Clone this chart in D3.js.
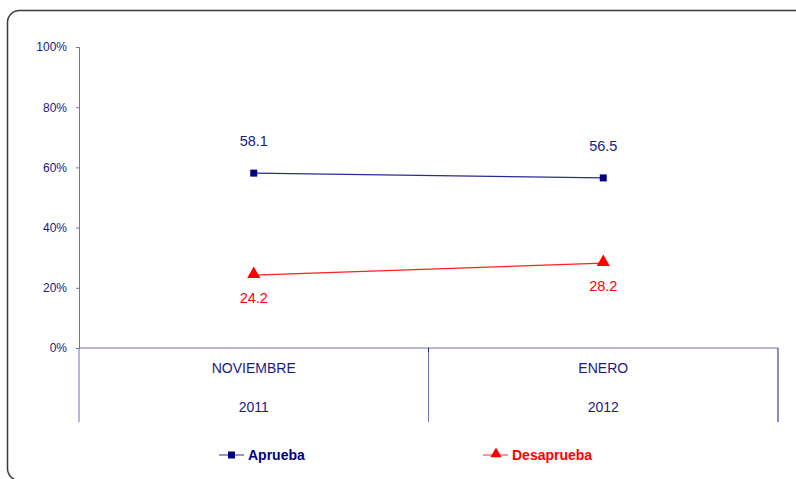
<!DOCTYPE html>
<html><head><meta charset="utf-8">
<script src="https://cdn.jsdelivr.net/npm/d3@7"></script>
<style>body{margin:0;background:#fff}svg{display:block;font-family:"Liberation Sans",Arial,sans-serif}</style>
</head><body>
<svg id="c" width="796" height="479"></svg>
<script>
const months = ["NOVIEMBRE", "ENERO"];
const years = ["2011", "2012"];
const aprueba = [58.1, 56.5];
const desaprueba = [24.2, 28.2];
const yTicks = [0, 20, 40, 60, 80, 100];

const svg = d3.select("#c");
svg.append("rect").attr("x", 7.5).attr("y", 10.5).attr("width", 820).attr("height", 470)
  .attr("rx", 12).attr("fill", "#fff").attr("stroke", "#3a3a3a").attr("stroke-width", 1.5);

const L = 79, R = 778, T = 47, B = 348;
const x = d3.scaleBand().domain(months).range([L, R]);
const y = d3.scaleLinear().domain([0, 100]).range([B, T]);
const axisCol = "#7070b8", textCol = "#1a1a80";

// y axis
const ya = svg.append("g").attr("transform", `translate(${L},0)`)
  .call(d3.axisLeft(y).tickValues(yTicks).tickSize(3).tickPadding(9).tickFormat(d => d + "%"));
ya.select(".domain").attr("stroke", axisCol);
ya.selectAll(".tick line").attr("stroke", axisCol);
ya.selectAll("text").attr("fill", textCol).attr("font-size", 12).attr("font-family", "Liberation Sans, Arial");

// x axis line
svg.append("line").attr("x1", L).attr("x2", R).attr("y1", y(0)).attr("y2", y(0)).attr("stroke", axisCol);
// category dividers
const divs = [L, ...months.map(m => x(m) + x.bandwidth())];
svg.selectAll(".div").data(divs).join("line")
  .attr("x1", d => d).attr("x2", d => d).attr("y1", y(0)).attr("y2", 422)
  .attr("stroke", (d, i) => i === divs.length - 1 ? "#1a1a80" : axisCol);
svg.append("line").attr("x1", divs[1]).attr("x2", divs[1]).attr("y1", y(0)).attr("y2", y(0) + 4).attr("stroke", "#1a1a80");

svg.selectAll(".m").data(months).join("text")
  .attr("x", d => x(d) + x.bandwidth() / 2).attr("y", 373).attr("text-anchor", "middle")
  .attr("font-size", 14).attr("fill", textCol).text(d => d);
svg.selectAll(".yr").data(years).join("text")
  .attr("x", (d, i) => x(months[i]) + x.bandwidth() / 2).attr("y", 412).attr("text-anchor", "middle")
  .attr("font-size", 14).attr("fill", textCol).text(d => d);

const cx = i => x(months[i]) + x.bandwidth() / 2;
const line = d3.line().x((d, i) => cx(i)).y(d => y(d));

// Aprueba
svg.append("path").attr("d", line(aprueba)).attr("fill", "none").attr("stroke", "#2a2a90").attr("stroke-width", 1.2);
svg.selectAll(".sq").data(aprueba).join("rect")
  .attr("x", (d, i) => cx(i) - 3.5).attr("y", d => y(d) - 3.5).attr("width", 7).attr("height", 7).attr("fill", "#000080");
svg.selectAll(".la").data(aprueba).join("text")
  .attr("x", (d, i) => cx(i)).attr("y", d => y(d) - 27).attr("text-anchor", "middle")
  .attr("font-size", 14.5).attr("fill", textCol).text(d => d.toFixed(1));

// Desaprueba
svg.append("path").attr("d", line(desaprueba)).attr("fill", "none").attr("stroke", "#ff2020").attr("stroke-width", 1.2);
const tri = d3.symbol().type(d3.symbolTriangle).size(75);
svg.selectAll(".tr").data(desaprueba).join("path")
  .attr("d", tri).attr("transform", (d, i) => `translate(${cx(i)},${y(d) - 1})`).attr("fill", "#ff0000");
svg.selectAll(".ld").data(desaprueba).join("text")
  .attr("x", (d, i) => cx(i)).attr("y", d => y(d) + 28).attr("text-anchor", "middle")
  .attr("font-size", 14.5).attr("fill", "#ff0000").text(d => d.toFixed(1));

// legend
const lg = [{name: "Aprueba", col: "#000080", lc: "#5050a8", x: 219, sym: "sq"},
            {name: "Desaprueba", col: "#ff0000", lc: "#ff5050", x: 483, sym: "tr"}];
const ly = 455;
lg.forEach(s => {
  svg.append("line").attr("x1", s.x).attr("x2", s.x + 25).attr("y1", ly).attr("y2", ly).attr("stroke", s.lc).attr("stroke-width", 1.2);
  if (s.sym === "sq") svg.append("rect").attr("x", s.x + 9).attr("y", ly - 3.5).attr("width", 7).attr("height", 7).attr("fill", s.col);
  else svg.append("path").attr("d", d3.symbol().type(d3.symbolTriangle).size(55)).attr("transform", `translate(${s.x + 13},${ly - 1})`).attr("fill", s.col);
  svg.append("text").attr("x", s.x + 29).attr("y", ly + 5).attr("font-size", 14).attr("font-weight", "bold").attr("fill", s.col).text(s.name);
});
</script>
</body></html>
